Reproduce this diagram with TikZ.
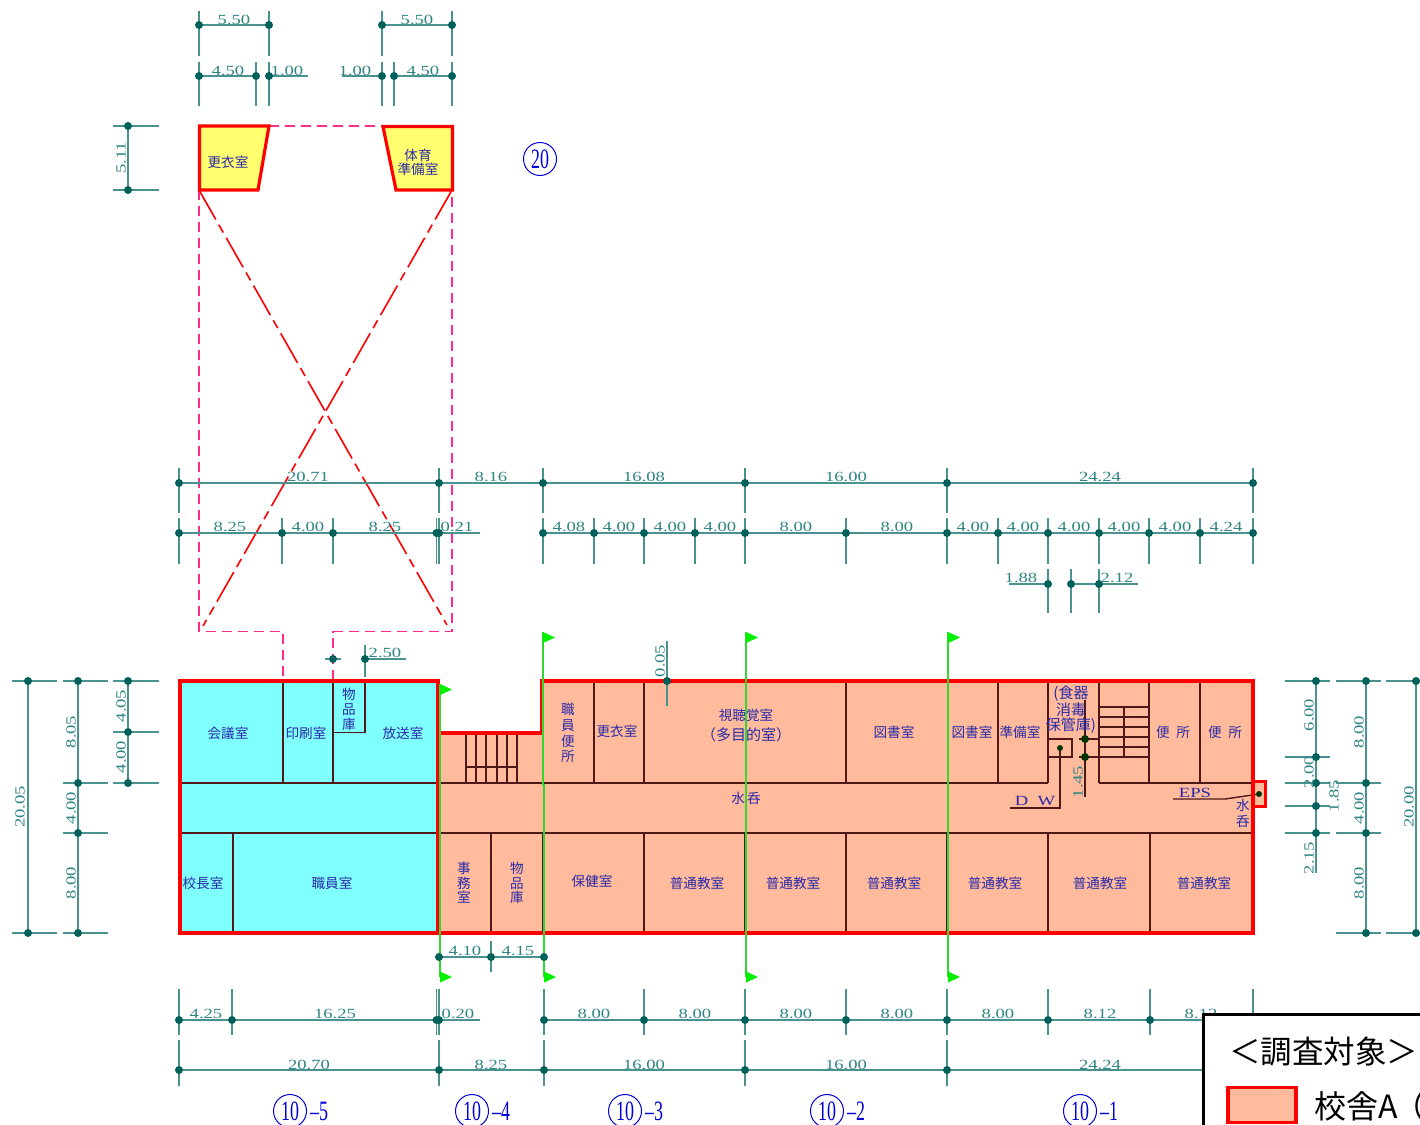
\documentclass[tikz,border=0pt]{standalone}
\usepackage{fontspec}
\usepackage{xcolor}
\setmainfont{Noto Sans CJK JP}
\newfontfamily\dimfont[FakeStretch=1.33]{Liberation Serif}
\newfontfamily\tagfont[FakeStretch=0.64]{Liberation Serif}
\usetikzlibrary{shapes,positioning}
\definecolor{dimline}{HTML}{4A9290}
\definecolor{dimdot}{HTML}{00605A}
\definecolor{dimtext}{HTML}{2F8583}
\definecolor{roomblue}{HTML}{2A2AA8}
\definecolor{orangefill}{HTML}{FFBB9C}
\definecolor{cyanfill}{HTML}{80FFFF}
\definecolor{yellowfill}{HTML}{FFFF70}
\definecolor{wallline}{HTML}{4E1818}
\definecolor{pinkline}{HTML}{FF2A8C}
\definecolor{flaggreen}{HTML}{00F000}
\definecolor{gridgreen}{HTML}{30D830}
\tikzset{
    dimrule/.style={draw=dimline, line width=1.3pt},
    dimlabel/.style={text=dimtext, font=\dimfont\fontsize{14}{14}\selectfont, inner sep=0pt},
    dimside/.style={dimlabel, rotate=90},
    roomlabel/.style={text=roomblue, font=\fontsize{13.6}{15}\selectfont, inner sep=0pt, align=center},
    taglabel/.style={text=blue!85!black, font=\tagfont\fontsize{28}{28}\selectfont, inner sep=0pt},
    tagcircle/.style={draw=blue!85!black, line width=1pt, circle, minimum size=33pt, inner sep=0pt, taglabel},
    wall/.style={draw=wallline, line width=1.4pt},
    redwall/.style={draw=red, line width=3.2pt, line join=miter},
    pinkdash/.style={draw=pinkline, line width=1.6pt, dash pattern=on 10pt off 6pt},
    reddash/.style={draw=red, line width=1.6pt, dash pattern=on 34pt off 6pt on 9pt off 6pt},
    gridline/.style={draw=gridgreen, line width=1.2pt},
    flagtip/.style={fill=flaggreen}
}
\newcommand{\dotat}[2]{\fill[dimdot] (#1,#2) circle (4);}
\newcommand{\hticks}[4]{\foreach \x in {#4} {\draw[dimrule] (\x,#2) -- (\x,#3); \dotat{\x}{#1}}}
\newcommand{\vticks}[4]{\foreach \y in {#4} {\draw[dimrule] (#2,\y) -- (#3,\y); \dotat{#1}{\y}}}
\newcommand{\flagat}[2]{\fill[flagtip] (#1,#2) -- (#1+12,#2+5.5) -- (#1,#2+11) -- cycle;}
\begin{document}
\begin{tikzpicture}[x=1pt,y=-1pt]
    \useasboundingbox (0,0) rectangle (1420,1124);
    \clip (0,0) rectangle (1420,1124);

    \draw[pinkdash] (269,126) -- (383,126);
    \draw[pinkdash] (199,190) -- (199,631.5) -- (283,631.5) -- (283,680);
    \draw[pinkdash] (333,680) -- (333,631.5) -- (452,631.5) -- (452,190);
    \draw[reddash] (199,190) -- (447,625);
    \draw[reddash] (452,190) -- (203,626);

    \draw[redwall, fill=yellowfill] (199.5,126) -- (269,126) -- (258,190) -- (199.5,190) -- cycle;
    \draw[redwall, fill=yellowfill] (383,126.5) -- (452.5,126.5) -- (452.5,190) -- (396,190) -- cycle;
    \node[roomlabel] (koui) at (228,162) {更衣室};
    \node[roomlabel] (taiiku) at (418,162) {体育\\[-1pt]準備室};
    \node[tagcircle] (tagtwenty) at (540,159) {20};

    \draw[dimrule] (199,25) -- (269,25);
    \draw[dimrule] (382,25) -- (452,25);
    \hticks{25}{11}{56}{199,269,382,452}
    \draw[dimrule] (199,76) -- (256,76);
    \draw[dimrule] (269,76) -- (308,76);
    \draw[dimrule] (342,76) -- (382,76);
    \draw[dimrule] (394,76) -- (452,76);
    \hticks{76}{62}{106}{199,256,269,382,394,452}
    \foreach \x/\t [count=\n] in {234/5.50,417/5.50} \node[dimlabel] (topa\n) at (\x,20) {\t};
    \foreach \x/\t [count=\n] in {228/4.50,287/1.00,355/1.00,423/4.50} \node[dimlabel] (topb\n) at (\x,71) {\t};
    \draw[dimrule] (128,126) -- (128,190);
    \vticks{128}{113}{159}{126,190}
    \node[dimside] (sidetop) at (121,158) {5.11};

    \draw[dimrule] (179,483) -- (1253,483);
    \hticks{483}{468}{513}{179,439,543,745,947,1253}
    \foreach \x/\t [count=\n] in {308/20.71,491/8.16,644/16.08,846/16.00,1100/24.24} \node[dimlabel] (rowa\n) at (\x,477) {\t};
    \draw[dimrule] (179,533) -- (480,533);
    \draw[dimrule] (543,533) -- (1253,533);
    \hticks{533}{518}{564}{179,282,333,436.5,439,543,594,644,695,745,846,947,998,1048,1099,1149,1200,1253}
    \foreach \x/\t [count=\n] in {230/8.25,308/4.00,385/8.25,457/0.21,569/4.08,619/4.00,670/4.00,720/4.00,796/8.00,897/8.00,973/4.00,1023/4.00,1074/4.00,1124/4.00,1175/4.00,1226/4.24} \node[dimlabel] (rowb\n) at (\x,527) {\t};
    \draw[dimrule] (1009,584) -- (1048,584);
    \draw[dimrule] (1071,584) -- (1138,584);
    \hticks{584}{569}{613}{1048,1071,1099}
    \node[dimlabel] (rowc1) at (1021,578) {1.88};
    \node[dimlabel] (rowc2) at (1117,578) {2.12};

    \draw[dimrule] (325,659) -- (341,659);
    \draw[dimrule] (365,659) -- (406,659);
    \draw[dimrule] (365,645) -- (365,677);
    \dotat{333}{659}
    \dotat{365}{659}
    \node[dimlabel] (stocka) at (385,653) {2.50};

    \draw[dimrule] (28,681) -- (28,933);
    \vticks{28}{12}{57}{681,933}
    \node[dimside] (lefta) at (20,807) {20.05};
    \draw[dimrule] (78,681) -- (78,933);
    \vticks{78}{63}{108}{681,783,833,933}
    \foreach \y/\t [count=\n] in {732/8.05,808/4.00,883/8.00} \node[dimside] (leftb\n) at (71,\y) {\t};
    \draw[dimrule] (128,681) -- (128,783);
    \vticks{128}{113}{159}{681,732,783}
    \foreach \y/\t [count=\n] in {706/4.05,757/4.00} \node[dimside] (leftc\n) at (121,\y) {\t};

    \fill[orangefill] (438,733) -- (542,733) -- (542,681) -- (1253,681) -- (1253,933) -- (438,933) -- cycle;
    \fill[orangefill] (1253,781.5) rectangle (1266,806.5);
    \fill[cyanfill] (180,681) rectangle (438,933);

    \draw[wall] (180,783) -- (1048,783);
    \draw[wall] (1099,783) -- (1253,783);
    \draw[wall] (180,833) -- (1253,833);
    \foreach \x in {283,333,594,644,846,998,1048,1099,1149,1200} \draw[wall] (\x,681) -- (\x,783);
    \foreach \x in {233,491,543,644,745,846,947,1048,1150} \draw[wall] (\x,833) -- (\x,933);
    \draw[wall] (365,681) -- (365,732.5) -- (333,732.5);
    \foreach \x in {466,476,486,497,507,517} \draw[wall] (\x,733) -- (\x,783);
    \draw[wall] (466,767) -- (517,767);
    \foreach \y in {707,717,727,737,747,757} \draw[wall] (1099,\y) -- (1149,\y);
    \draw[wall] (1124,707) -- (1124,757);
    \draw[wall] (1048,739) -- (1072,739) -- (1072,757) -- (1048,757);
    \draw[wall] (1079,757) -- (1099,757);
    \draw[wall] (1079,739) -- (1100,739);
    \draw[wall] (1085,700) -- (1085,797);
    \draw[wall] (1060,748) -- (1060,808) -- (1010,808);
    \draw[wall] (1173,799) -- (1225,799) -- (1259,794);
    \fill[black!80!green] (1085,739) circle (4);
    \fill[black!80!green] (1085,757) circle (4);
    \fill[black!80!green] (1060,748) circle (3);
    \fill[black!80!green] (1259,794) circle (3);

    \draw[redwall] (438,733) -- (542,733) -- (542,681) -- (1253,681) -- (1253,933) -- (438,933);
    \draw[redwall] (1253,781.5) -- (1265.5,781.5) -- (1265.5,806.5) -- (1253,806.5);
    \draw[redwall] (180,681) rectangle (438,933);

    \node[roomlabel] (kaigi) at (228,733) {会議室};
    \node[roomlabel] (insatsu) at (306,733) {印刷室};
    \node[roomlabel] (buppina) at (349,709.5) {物\\[0pt]品\\[0pt]庫};
    \node[roomlabel] (housou) at (403,733) {放送室};
    \node[roomlabel] (kouchou) at (203,883) {校長室};
    \node[roomlabel] (shokuin) at (332,883) {職員室};
    \node[roomlabel] (jimu) at (464,883) {事\\[-0.5pt]務\\[-0.5pt]室};
    \node[roomlabel] (buppinb) at (517,883) {物\\[-0.5pt]品\\[-0.5pt]庫};
    \node[roomlabel] (hoken) at (592,881) {保健室};
    \node[roomlabel] (benjo) at (568,733) {職\\[0.7pt]員\\[0.7pt]便\\[0.7pt]所};
    \node[roomlabel] (koutwo) at (617,731) {更衣室};
    \node[roomlabel] (shichou) at (746,725.5) {視聴覚室\\[5pt]{\fontsize{15}{15}\selectfont（多目的室）}};
    \node[roomlabel] (toshoa) at (894,732) {図書室};
    \node[roomlabel] (toshob) at (972,732) {図書室};
    \node[roomlabel] (junbi) at (1020,732) {準備室};
    \node[roomlabel, font=\fontsize{15}{15}\selectfont] (shokki) at (1071,709.5) {(食器\\[0.5pt]消毒\\[0.5pt]保管庫)};
    \node[roomlabel] (wca) at (1173,732) {便\,\,\,所};
    \node[roomlabel] (wcb) at (1225,732) {便\,\,\,所};
    \node[roomlabel] (mizua) at (746,798) {水\,呑};
    \node[roomlabel] (mizub) at (1243,813) {水\\[1pt]呑};
    \foreach \x [count=\n] in {697,793,894,995,1100,1204} \node[roomlabel] (futsuu\n) at (\x,883) {普通教室};
    \node[dimlabel, text=roomblue] (dwash) at (1035,801) {D\,\,\,\,W};
    \node[dimlabel, text=roomblue] (eps) at (1195,793) {EPS};
    \node[dimside] (rise) at (1078,782) {1.45};

    \draw[dimrule] (667,641) -- (667,706);
    \dotat{667}{681}
    \node[dimside] (ceil) at (660,661) {0.05};

    \draw[gridline] (440,684) -- (440,977);
    \draw[gridline] (543,632) -- (543,785) -- (544,785) -- (544,977);
    \draw[gridline] (746,632) -- (746,977);
    \draw[gridline] (948,632) -- (948,977);
    \flagat{440}{684}
    \flagat{440}{971.5}
    \foreach \x in {543,746,948} {\flagat{\x}{632}}
    \foreach \x in {544,746,948} {\flagat{\x}{971.5}}

    \draw[dimrule] (1316,681) -- (1316,873);
    \vticks{1316}{1285}{1330}{681,757,783,806,833}
    \foreach \y/\t [count=\n] in {715/6.00,772/2.00,858/2.15} \node[dimside] (righta\n) at (1309,\y) {\t};
    \node[dimside] (rightx) at (1334,796) {1.85};
    \draw[dimrule] (1366,681) -- (1366,933);
    \vticks{1366}{1336}{1381}{681,783,833,933}
    \foreach \y/\t [count=\n] in {732/8.00,808/4.00,883/8.00} \node[dimside] (rightb\n) at (1359,\y) {\t};
    \draw[dimrule] (1416,681) -- (1416,933);
    \vticks{1416}{1386}{1425}{681,933}
    \node[dimside] (rightc) at (1409,807) {20.00};

    \draw[dimrule] (439,957) -- (544,957);
    \draw[dimrule] (491,941) -- (491,972);
    \dotat{439}{957}
    \dotat{491}{957}
    \dotat{544}{957}
    \node[dimlabel] (lowa) at (465,951) {4.10};
    \node[dimlabel] (lowb) at (518,951) {4.15};
    \draw[dimrule] (179,1020) -- (480,1020);
    \draw[dimrule] (544,1020) -- (1253,1020);
    \hticks{1020}{989}{1035}{179,232,436.5,439,544,644,745,846,947,1048,1150}
    \draw[dimrule] (1253,989) -- (1253,1035);
    \foreach \x/\t [count=\n] in {206/4.25,335/16.25,458/0.20,594/8.00,695/8.00,796/8.00,897/8.00,998/8.00,1100/8.12,1201/8.12} \node[dimlabel] (rowd\n) at (\x,1014) {\t};
    \draw[dimrule] (179,1070) -- (1253,1070);
    \hticks{1070}{1040}{1086}{179,439,544,745,947}
    \foreach \x/\t [count=\n] in {309/20.70,491/8.25,644/16.00,846/16.00,1100/24.24} \node[dimlabel] (rowe\n) at (\x,1065) {\t};

    \foreach \x/\t [count=\n] in {290/5,472/4,625/3,827/2,1080/1} {
        \node[tagcircle] (tagten\n) at (\x,1111) {10};
        \node[taglabel, right=3pt of tagten\n] (tagnum\n) {–\t};
    }

    \draw[draw=black, fill=white, line width=3pt] (1203.5,1014.5) rectangle (1430,1140);
    \node[anchor=west, inner sep=0pt, font=\fontsize{31.5}{32}\selectfont] (legtitle) at (1229,1052) {＜調査対象＞};
    \draw[redwall, fill=orangefill] (1228,1087.5) rectangle (1296,1122.5);
    \node[anchor=west, inner sep=0pt, font=\fontsize{32}{32}\selectfont] (legtext) at (1314,1106) {校舎A\hspace{-4pt}（};
\end{tikzpicture}
\end{document}
